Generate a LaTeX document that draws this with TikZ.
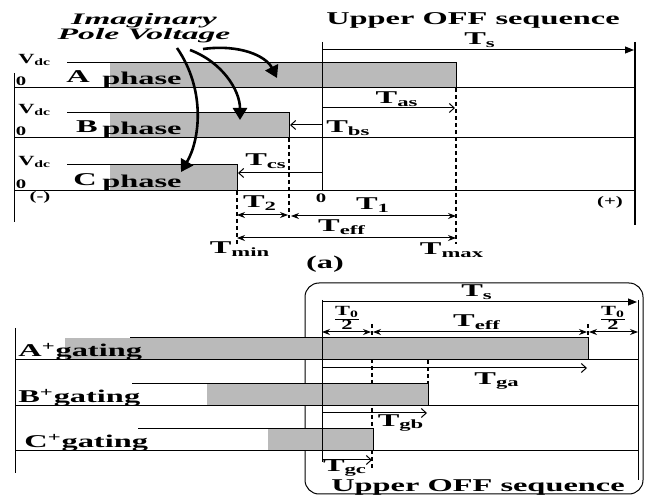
\documentclass[tikz,border=0pt]{standalone}
\usepackage{amsmath}
\usepackage{fontspec}
\setmainfont{Liberation Serif}
\usetikzlibrary{arrows.meta}

\begin{document}
\begin{tikzpicture}[x=1pt, y=-1pt,
        lbl/.style={font=\bfseries\fontsize{18}{18}\selectfont, xscale=1.8, inner sep=0pt},
        sml/.style={font=\bfseries\fontsize{13}{13}\selectfont, xscale=1.6, inner sep=0pt},
        shade/.style={fill=black!27},
        thin/.style={line width=1pt},
        dashline/.style={line width=1.4pt, dash pattern=on 4pt off 3pt},
        bigtip/.style={-{Triangle[length=9pt,width=7pt]}},
        opentip/.style={-{Straight Barb[length=5pt,width=9pt]}},
        dbltip/.style={{Stealth[length=8pt,width=6pt]}-{Stealth[length=8pt,width=6pt]}},
        pole/.style={line width=2.6pt, -{Triangle[length=12pt,width=14pt]}}]

    \useasboundingbox (0,0) rectangle (649,497);

    % (a) pole voltages
    \node[font=\bfseries\itshape\fontsize{16}{13}\selectfont, xscale=2.1, align=center, inner sep=0pt] (imag) at (144,28) {Imaginary\\Pole Voltage};
    \draw[thin] (14,73) -- (14,222);
    \foreach \y/\z/\e/\lx/\n in {63/88/456/78/A, 113/138/289/87/B, 165/191/237/85/C} {
        \fill[shade] (110,\y) rectangle (\e,\z);
        \draw[thin] (67,\y) -- (\e,\y) -- (\e,\z);
        \draw[thin] (14,\z) -- (635,\z);
        \node[font=\bfseries\fontsize{14}{14}\selectfont, xscale=1.6, inner sep=0pt, anchor=west] (vdc\n) at (18,\y-3) {V\textsubscript{dc}};
        \node[sml] (zero\n) at (21,\z-7) {0};
        \node[lbl, anchor=base] (let\n) at (\lx,\z-5) {\n};
        \node[lbl, anchor=base] (ph\n) at (142,\z-3) {phase};
    }
    \draw[pole] (203,49) .. controls (240,44) and (266,56) .. (277,78);
    \draw[pole] (190,50) .. controls (222,62) and (240,90) .. (240,120);
    \draw[pole] (177,48) .. controls (206,90) and (200,140) .. (181,172);

    % (a) times
    \node[lbl] (upoffa) at (473,20) {Upper OFF sequence};
    \draw[thin] (322,42) -- (322,191);
    \node[sml] (orig) at (321,198) {0};
    \draw[line width=2.6pt] (635,42) -- (635,225);
    \draw[thin, bigtip] (322,50) -- (634,50);
    \node[lbl] (tsa) at (480,40) {T\textsubscript{s}};
    \draw[thin, opentip] (322,108) -- (455,108);
    \node[lbl] (tas) at (397,99) {T\textsubscript{as}};
    \draw[thin, opentip] (322,125) -- (290,125);
    \node[lbl, anchor=west] (tbs) at (326,128) {T\textsubscript{bs}};
    \draw[thin, opentip] (322,173) -- (238,173);
    \node[lbl] (tcs) at (266,161) {T\textsubscript{cs}};
    \draw[dashline] (456,88) -- (456,244);
    \draw[dashline] (289,138) -- (289,218);
    \draw[dashline] (237,191) -- (237,244);
    \draw[thin, dbltip] (237,215) -- (288,215);
    \draw[thin, dbltip] (291,216) -- (456,216);
    \draw[thin, dbltip] (237,238) -- (456,238);
    \node[lbl] (ttwo) at (260,203) {T\textsubscript{2}};
    \node[lbl] (tone) at (373,205) {T\textsubscript{1}};
    \node[lbl] (teffa) at (342,227) {T\textsubscript{eff}};
    \node[lbl] (tmin) at (240,249) {T\textsubscript{min}};
    \node[lbl] (tmax) at (452,250) {T\textsubscript{max}};
    \node[sml] (neg) at (40,197) {(-)};
    \node[sml] (pos) at (610,202) {(+)};
    \node[lbl] (capa) at (325,264) {(a)};

    % (b) gating signals
    \draw[thin, rounded corners=14pt] (305,283) rectangle (643,494);
    \draw[dashline] (372,338) -- (372,470);
    \draw[dashline] (428,360) -- (428,384);
    \draw[dashline] (372,324) -- (372,338);
    \draw[dashline] (588,324) -- (588,338);
    \draw[thin] (15,328) -- (15,473);
    \foreach \y/\s/\t/\e/\lx/\n in {338/65/130/588/18/A, 384/207/132/428/18/B, 429/268/138/373/24/C} {
        \fill[shade] (\s,\y) rectangle (\e,\y+22);
        \draw[thin] (\t,\y) -- (\e,\y) -- (\e,\y+22);
        \draw[thin] (15,\y+22) -- (638,\y+22);
        \node[lbl, anchor=base west] (gate\n) at (\lx,\y+19) {\n\textsuperscript{+}gating};
    }
    \draw[thin] (322,300) -- (322,462);
    \draw[thin] (638,300) -- (638,480);
    \draw[thin, bigtip] (322,302) -- (637,302);
    \node[lbl] (tsb) at (477,292) {T\textsubscript{s}};
    \node[font=\bfseries\fontsize{14}{14}\selectfont, xscale=1.6, inner sep=0pt] (halfl) at (347,318) {$\genfrac{}{}{1pt}{}{\mbox{T\textsubscript{0}}}{\mbox{2}}$};
    \node[font=\bfseries\fontsize{14}{14}\selectfont, xscale=1.6, inner sep=0pt] (halfr) at (613,318) {$\genfrac{}{}{1pt}{}{\mbox{T\textsubscript{0}}}{\mbox{2}}$};
    \draw[thin, dbltip] (322,332) -- (371,332);
    \draw[thin, dbltip] (373,332) -- (587,332);
    \draw[thin, dbltip] (589,332) -- (638,332);
    \node[lbl] (teffb) at (477,322) {T\textsubscript{eff}};
    \draw[thin, opentip] (322,368) -- (587,368);
    \node[lbl] (tga) at (497,381) {T\textsubscript{ga}};
    \draw[thin, opentip] (322,413) -- (427,413);
    \node[lbl] (tgb) at (401,423) {T\textsubscript{gb}};
    \draw[thin, opentip] (322,460) -- (372,460);
    \node[lbl] (tgc) at (345,468) {T\textsubscript{gc}};
    \node[lbl] (upoffb) at (478,487) {Upper OFF sequence};

\end{tikzpicture}
\end{document}
